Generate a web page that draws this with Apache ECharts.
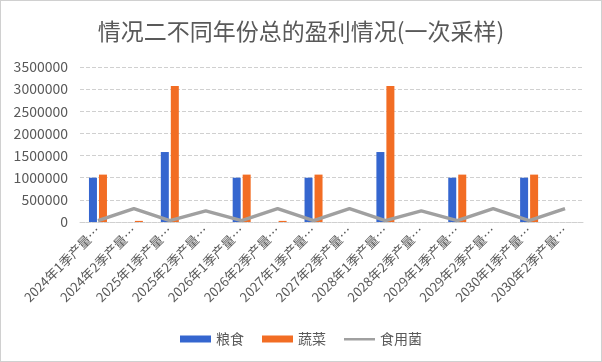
<!DOCTYPE html>
<html>
<head>
<meta charset="utf-8">
<script src="https://cdn.jsdelivr.net/npm/echarts@6/dist/echarts.min.js"></script>
<style>
html,body{margin:0;padding:0;background:#fff;}
#c{position:absolute;left:0;top:0;width:600px;height:360px;border:1px solid #d0d0d0;}
</style>
</head>
<body>
<div id="c"></div>
<script>
var categories = ["2024年1季产量…","2024年2季产量…","2025年1季产量…","2025年2季产量…","2026年1季产量…","2026年2季产量…","2027年1季产量…","2027年2季产量…","2028年1季产量…","2028年2季产量…","2029年1季产量…","2029年2季产量…","2030年1季产量…","2030年2季产量…"];
var grain = [1000000, 0, 1580000, 0, 1000000, 0, 1000000, 0, 1580000, 0, 1000000, 0, 1000000, 0];
var vegetables = [1070000, 25000, 3070000, 0, 1070000, 25000, 1070000, 0, 3070000, 0, 1070000, 0, 1070000, 0];
var mushrooms = [30000, 300000, 30000, 250000, 30000, 300000, 30000, 300000, 30000, 250000, 30000, 300000, 30000, 300000];
var yTicks = [0, 500000, 1000000, 1500000, 2000000, 2500000, 3000000, 3500000];

var FONT = '"Noto Sans CJK SC", "Noto Sans", sans-serif';
var chart = echarts.init(document.getElementById('c'));
chart.setOption({
  animation: false,
  textStyle: {fontFamily: FONT, color: '#595959'},
  title: {
    text: '情况二不同年份总的盈利情况(一次采样)',
    left: 'center', top: 14,
    textStyle: {fontFamily: FONT, fontSize: 23, fontWeight: 'normal', color: '#595959'}
  },
  legend: {
    bottom: 10, left: 'center',
    itemWidth: 31, itemHeight: 7, itemGap: 18,
    textStyle: {fontFamily: FONT, fontSize: 14, color: '#595959'},
    data: [
      {name: '粮食', icon: 'rect'},
      {name: '蔬菜', icon: 'rect'},
      {name: '食用菌', icon: 'path://M0,2.5 L31,2.5 L31,5 L0,5 Z M0,0 L0.01,0 L0.01,7 L0,7 Z', itemStyle: {color: '#a0a0a0'}}
    ]
  },
  grid: {left: 79, right: 18, top: 66, bottom: 139},
  xAxis: {
    type: 'category',
    data: categories,
    axisLine: {lineStyle: {color: '#d0d0d0', type: 'dotted', width: 1}},
    axisTick: {show: false},
    axisLabel: {rotate: 45, interval: 0, margin: 6, fontSize: 13, color: '#595959', fontFamily: FONT}
  },
  yAxis: {
    type: 'value',
    min: yTicks[0], max: yTicks[yTicks.length - 1], interval: yTicks[1] - yTicks[0],
    axisLine: {show: false},
    axisTick: {show: false},
    axisLabel: {fontSize: 14, color: '#595959', margin: 12, fontFamily: FONT,
      formatter: function (v) { return String(v); }},
    splitLine: {lineStyle: {color: '#d0d0d0', type: 'dashed', width: 1}}
  },
  series: [
    {name: '粮食', type: 'bar', data: grain, barWidth: 8, barGap: '25%',
     itemStyle: {color: '#3566cf'}},
    {name: '蔬菜', type: 'bar', data: vegetables, barWidth: 8, barGap: '25%',
     itemStyle: {color: '#f26d24'}},
    {name: '食用菌', type: 'line', data: mushrooms, symbol: 'none', showSymbol: false,
     lineStyle: {color: '#a0a0a0', width: 3.5}, itemStyle: {color: '#a0a0a0'}}
  ]
});
</script>
</body>
</html>
